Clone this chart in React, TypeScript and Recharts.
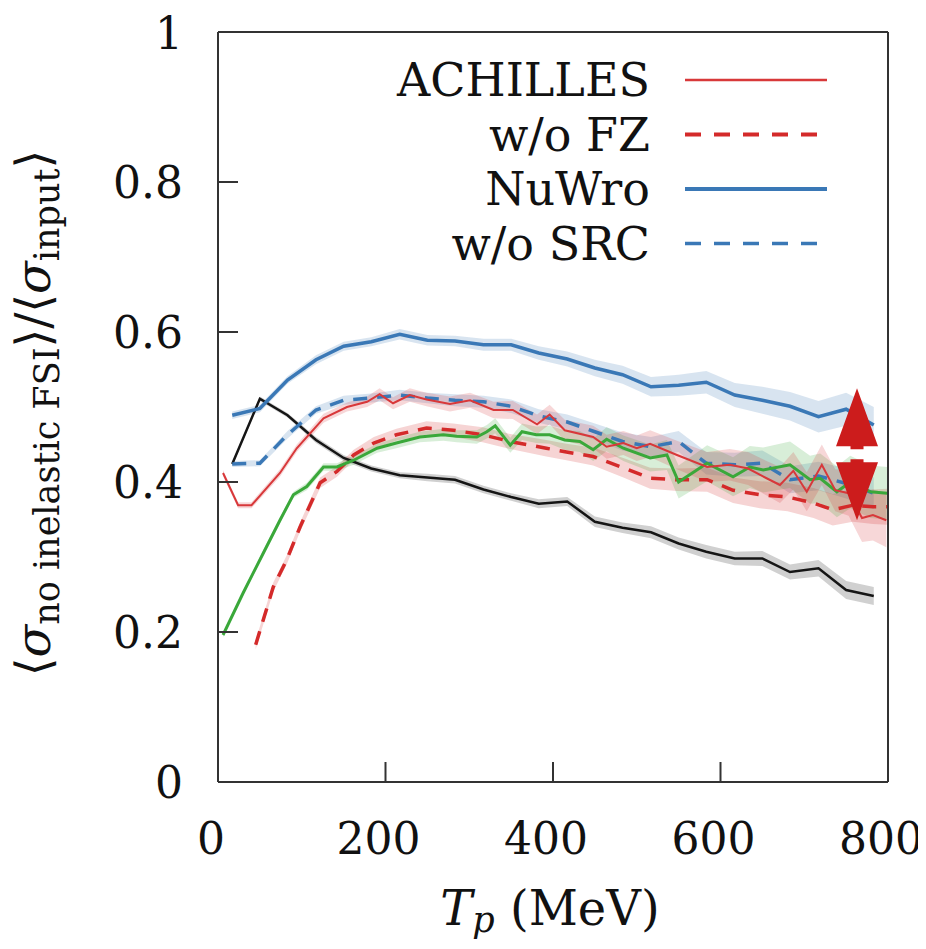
import {
  ComposedChart, Line, Area, XAxis, YAxis, ReferenceLine, Legend,
} from 'recharts'

// NuWro / black / w/o SRC share the same binning
const binX = [17, 50, 83, 117, 150, 183, 217, 250, 283, 317, 350, 383, 417, 450, 483, 517, 550, 583, 617, 650, 683, 717, 750, 783]
const nuwroY = [0.489, 0.498, 0.536, 0.563, 0.581, 0.587, 0.597, 0.589, 0.588, 0.583, 0.583, 0.572, 0.564, 0.552, 0.543, 0.527, 0.529, 0.533, 0.516, 0.509, 0.501, 0.487, 0.497, 0.476]
const nuwroErr = [0.005, 0.005, 0.005, 0.006, 0.006, 0.006, 0.007, 0.007, 0.007, 0.008, 0.008, 0.009, 0.010, 0.011, 0.012, 0.013, 0.014, 0.015, 0.016, 0.018, 0.019, 0.021, 0.022, 0.024]
const srcY = [0.424, 0.425, 0.463, 0.496, 0.509, 0.512, 0.516, 0.512, 0.509, 0.507, 0.501, 0.488, 0.480, 0.467, 0.454, 0.447, 0.454, 0.425, 0.423, 0.425, 0.403, 0.408, 0.398, 0.385]
const srcErr = [0.004, 0.004, 0.005, 0.005, 0.006, 0.006, 0.007, 0.007, 0.008, 0.008, 0.009, 0.009, 0.010, 0.011, 0.012, 0.013, 0.014, 0.015, 0.016, 0.017, 0.018, 0.019, 0.020, 0.021]
const blackY = [0.424, 0.511, 0.489, 0.456, 0.432, 0.418, 0.409, 0.406, 0.403, 0.390, 0.380, 0.371, 0.374, 0.347, 0.339, 0.333, 0.318, 0.307, 0.298, 0.298, 0.280, 0.285, 0.256, 0.248]
const blackErr = [0.003, 0.003, 0.003, 0.004, 0.004, 0.004, 0.004, 0.005, 0.005, 0.005, 0.005, 0.006, 0.006, 0.007, 0.007, 0.008, 0.008, 0.009, 0.009, 0.010, 0.010, 0.011, 0.012, 0.012]

// ACHILLES
const achX = [6, 24, 40, 74, 94, 126, 154, 178, 193, 209, 229, 249, 277, 301, 329, 352, 381, 396, 414, 448, 464, 484, 500, 516, 548, 584, 611, 633, 655, 671, 687, 703, 721, 737, 753, 769, 782, 798]
const achY = [0.412, 0.369, 0.369, 0.412, 0.445, 0.485, 0.500, 0.507, 0.517, 0.505, 0.516, 0.510, 0.504, 0.509, 0.496, 0.496, 0.477, 0.490, 0.469, 0.460, 0.447, 0.452, 0.445, 0.451, 0.436, 0.420, 0.423, 0.418, 0.405, 0.396, 0.415, 0.387, 0.423, 0.389, 0.385, 0.352, 0.356, 0.349]
const achErr = [0.004, 0.004, 0.004, 0.005, 0.005, 0.006, 0.006, 0.007, 0.008, 0.008, 0.009, 0.009, 0.010, 0.010, 0.011, 0.012, 0.013, 0.013, 0.014, 0.015, 0.016, 0.016, 0.017, 0.018, 0.019, 0.020, 0.021, 0.022, 0.023, 0.024, 0.025, 0.026, 0.027, 0.028, 0.030, 0.032, 0.034, 0.036]

// ACHILLES w/o FZ
const fzX = [45, 66, 82, 98, 122, 142, 162, 186, 213, 249, 281, 316, 349, 392, 416, 448, 484, 516, 548, 584, 615, 647, 680, 711, 734, 758, 782, 799]
const fzY = [0.183, 0.260, 0.296, 0.340, 0.399, 0.414, 0.436, 0.452, 0.463, 0.472, 0.469, 0.463, 0.454, 0.445, 0.440, 0.434, 0.419, 0.405, 0.403, 0.403, 0.389, 0.383, 0.380, 0.372, 0.363, 0.369, 0.367, 0.367]
const fzErr = [0.006, 0.006, 0.006, 0.006, 0.007, 0.007, 0.007, 0.008, 0.008, 0.009, 0.009, 0.010, 0.010, 0.011, 0.011, 0.012, 0.013, 0.014, 0.015, 0.016, 0.017, 0.018, 0.019, 0.020, 0.021, 0.022, 0.023, 0.024]

// green (no legend entry)
const grnX = [6, 30, 54, 74, 90, 106, 126, 142, 162, 190, 213, 241, 269, 285, 309, 321, 331, 349, 363, 380, 396, 414, 432, 448, 464, 484, 516, 536, 550, 584, 615, 635, 651, 683, 707, 719, 739, 755, 779, 799]
const grnY = [0.196, 0.252, 0.305, 0.349, 0.383, 0.394, 0.420, 0.420, 0.429, 0.445, 0.452, 0.460, 0.463, 0.461, 0.460, 0.467, 0.475, 0.449, 0.467, 0.463, 0.463, 0.456, 0.454, 0.443, 0.457, 0.445, 0.432, 0.436, 0.400, 0.425, 0.407, 0.420, 0.416, 0.423, 0.403, 0.405, 0.387, 0.400, 0.387, 0.385]
const grnErr = [0.003, 0.003, 0.004, 0.004, 0.004, 0.005, 0.005, 0.005, 0.006, 0.006, 0.007, 0.007, 0.008, 0.008, 0.009, 0.009, 0.010, 0.010, 0.011, 0.011, 0.012, 0.013, 0.014, 0.015, 0.016, 0.017, 0.018, 0.020, 0.022, 0.024, 0.026, 0.028, 0.030, 0.031, 0.032, 0.033, 0.034, 0.035, 0.035, 0.035]

const xTicks = [0, 200, 400, 600, 800]
const yTicks = [0, 0.2, 0.4, 0.6, 0.8, 1]
const legendItems = [
  { label: 'ACHILLES', color: '#d8383a', dash: undefined, w: 2.5 },
  { label: 'w/o FZ', color: '#d42a2a', dash: '16 13', w: 4 },
  { label: 'NuWro', color: '#3a78b6', dash: undefined, w: 4 },
  { label: 'w/o SRC', color: '#3a78b6', dash: '16 13', w: 3.5 },
]
const arrowSeg = [{ x: 763, y: 0.525 }, { x: 763, y: 0.349 }]

const build = (xs: number[], ys: number[], es: number[]) =>
  xs.map((x, i) => ({ x, y: ys[i], band: [ys[i] - es[i], ys[i] + es[i]] }))

const FONT = 'DejaVu Serif'
const RED = '#d8383a'
const RED2 = '#d42a2a'
const BLUE = '#3a78b6'
const GREEN = '#3aa83a'
const BLACK = '#151515'
const AXIS = '#333'
const W = 918

const series = [
  { key: 'black', data: build(binX, blackY, blackErr), color: BLACK, w: 2.5, dash: undefined },
  { key: 'nuwro', data: build(binX, nuwroY, nuwroErr), color: BLUE, w: 3.5, dash: undefined },
  { key: 'src', data: build(binX, srcY, srcErr), color: BLUE, w: 3.5, dash: '14 10' },
  { key: 'fz', data: build(fzX, fzY, fzErr), color: RED2, w: 3.5, dash: '14 10' },
  { key: 'green', data: build(grnX, grnY, grnErr), color: GREEN, w: 3, dash: undefined },
  { key: 'ach', data: build(achX, achY, achErr), color: RED, w: 2, dash: undefined },
]

function YLabel() {
  const cx = 42, cy = 405
  return (
    <text x={cx} y={cy} transform={`rotate(-90, ${cx}, ${cy})`} textAnchor="middle"
      fontFamily={FONT} fontSize={48} fill="#111">
      <tspan>⟨</tspan><tspan fontStyle="italic">σ</tspan>
      <tspan fontSize={35} dy={9}>no inelastic FSI</tspan>
      <tspan dy={-9}>⟩/⟨</tspan><tspan fontStyle="italic">σ</tspan>
      <tspan fontSize={35} dy={9}>input</tspan>
      <tspan dy={-9}>⟩</tspan>
    </text>
  )
}

function XLabel() {
  return (
    <text x={542} y={917} textAnchor="middle" fontFamily={FONT} fontSize={48} fill="#111">
      <tspan fontStyle="italic">T</tspan>
      <tspan fontStyle="italic" fontSize={35} dy={7}>p</tspan>
      <tspan dy={-7}> (MeV)</tspan>
    </text>
  )
}

function LegendBox() {
  return (
    <svg width={W} height={300} style={{ display: 'block' }}>
      {legendItems.map((it, i) => {
        const y = 72 + i * 54.5
        return (
          <g key={it.label}>
            <text x={642} y={y} textAnchor="end" dominantBaseline="central"
              fontFamily={FONT} fontSize={46} fill="#111">{it.label}</text>
            <line x1={677} x2={819} y1={y} y2={y} stroke={it.color}
              strokeWidth={it.w} strokeDasharray={it.dash} />
          </g>
        )
      })}
    </svg>
  )
}

function Arrow(p: any) {
  const x = p.x1
  const top = Math.min(p.y1, p.y2), bot = Math.max(p.y1, p.y2)
  const mid = (top + bot) / 2
  const head = 58, hw = 21, sw = 6.5, gap = 5
  const up = [[x, top], [x + hw, top + head], [x + sw, top + head], [x + sw, mid - gap], [x - sw, mid - gap], [x - sw, top + head], [x - hw, top + head]]
  const dn = [[x, bot], [x + hw, bot - head], [x + sw, bot - head], [x + sw, mid + gap], [x - sw, mid + gap], [x - sw, bot - head], [x - hw, bot - head]]
  return (
    <g>
      <polygon points={up.map(q => q.join(',')).join(' ')} fill="#cc1c1c" />
      <polygon points={dn.map(q => q.join(',')).join(' ')} fill="#cc1c1c" />
    </g>
  )
}

export default function App() {
  return (
    <ComposedChart width={W} height={933} margin={{ top: 23, right: W - 881, bottom: 19, left: 60 }}>
      <XAxis xAxisId="b" type="number" dataKey="x" domain={[0, 800]} ticks={xTicks} allowDataOverflow
        height={140} tickSize={-20} tickMargin={61}
        axisLine={{ stroke: AXIS, strokeWidth: 2 }} tickLine={{ stroke: AXIS, strokeWidth: 2 }}
        tick={{ fontFamily: FONT, fontSize: 44, fill: '#111', dx: -7 }}
        label={{ content: () => <XLabel /> }} />
      <XAxis xAxisId="t" orientation="top" type="number" dataKey="x" domain={[0, 800]} ticks={xTicks}
        height={1} tickSize={-20} tick={false}
        axisLine={{ stroke: AXIS, strokeWidth: 2 }} tickLine={{ stroke: AXIS, strokeWidth: 2 }} />
      <YAxis yAxisId="l" type="number" domain={[0, 1]} ticks={yTicks} allowDataOverflow
        width={150} tickSize={-20} tickMargin={55}
        tickFormatter={(v: number) => (v === 0 || v === 1 ? String(v) : v.toFixed(1))}
        axisLine={{ stroke: AXIS, strokeWidth: 2 }} tickLine={{ stroke: AXIS, strokeWidth: 2 }}
        tick={{ fontFamily: FONT, fontSize: 44, fill: '#111' }}
        label={{ content: () => <YLabel /> }} />
      <YAxis yAxisId="r" orientation="right" type="number" domain={[0, 1]} ticks={yTicks}
        width={1} tickSize={-20} tick={false}
        axisLine={{ stroke: AXIS, strokeWidth: 2 }} tickLine={{ stroke: AXIS, strokeWidth: 2 }} />

      {series.map(s => (
        <Area key={s.key + '-band'} xAxisId="b" yAxisId="l" data={s.data} dataKey="band"
          type="linear" stroke="none" fill={s.color} fillOpacity={0.2} isAnimationActive={false} />
      ))}
      {series.map(s => (
        <Line key={s.key} xAxisId="b" yAxisId="l" data={s.data} dataKey="y" type="linear"
          stroke={s.color} strokeWidth={s.w} strokeDasharray={s.dash} dot={false}
          isAnimationActive={false} />
      ))}

      <ReferenceLine xAxisId="b" yAxisId="l" segment={arrowSeg} shape={Arrow} />

      <Legend layout="vertical" align="center" verticalAlign="middle" content={() => <LegendBox />}
        wrapperStyle={{ left: 0, top: 0, width: W, height: 300 }} />
    </ComposedChart>
  )
}
